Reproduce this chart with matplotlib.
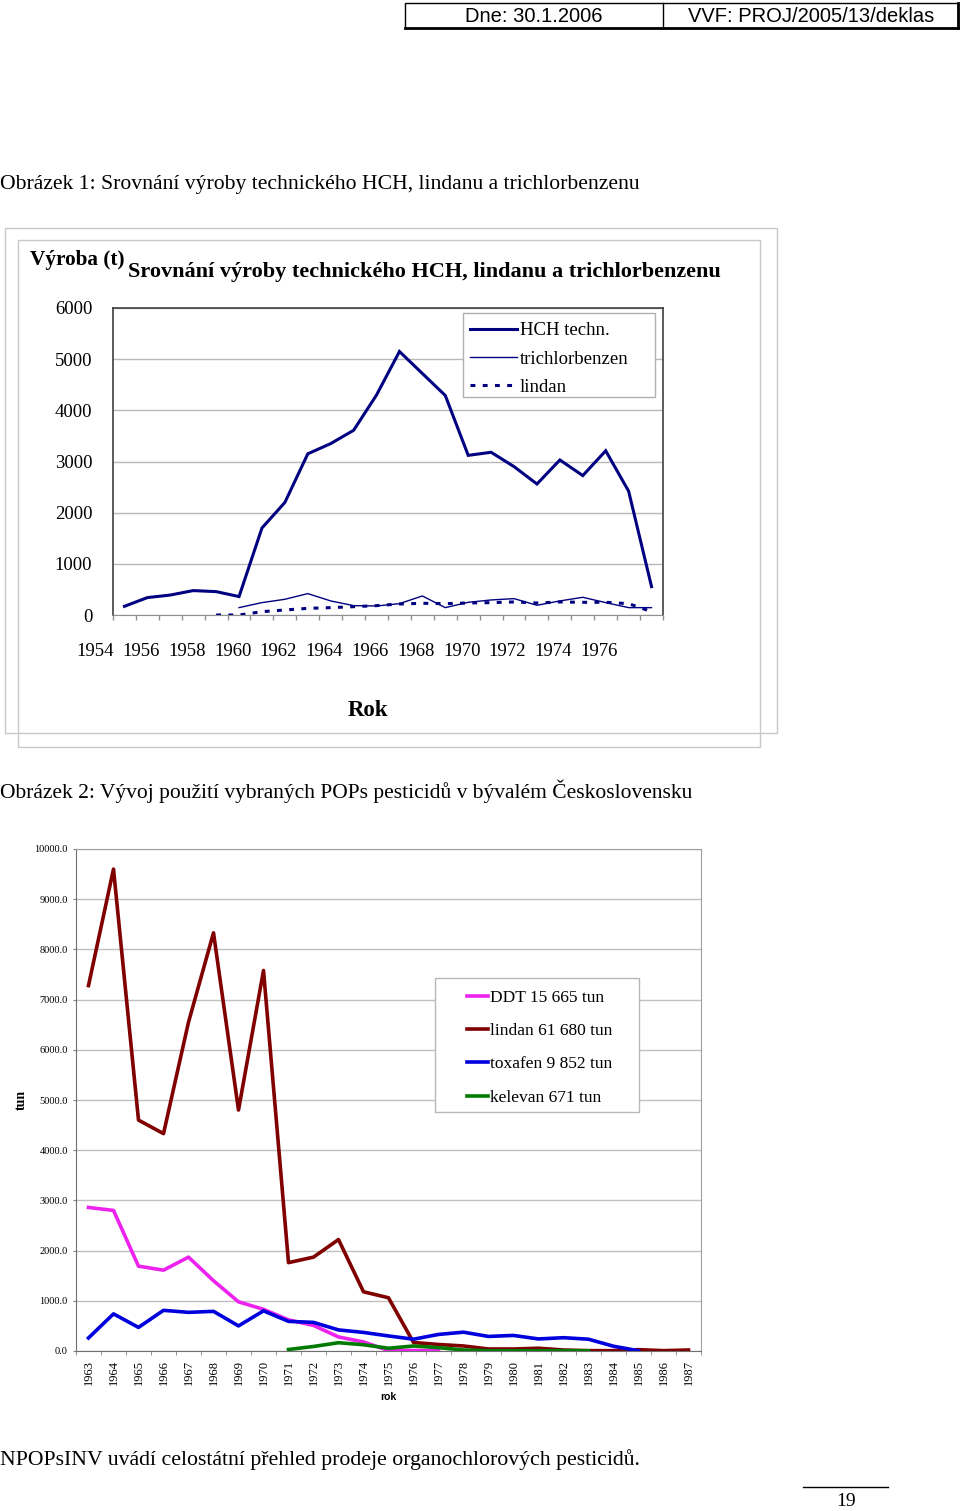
import numpy as np
import matplotlib
matplotlib.use("Agg")
import matplotlib.pyplot as plt
from matplotlib.patches import Rectangle
from matplotlib.lines import Line2D

nan = np.nan

# ---------------- data: chart 1 ----------------
years1 = list(range(1954, 1978))
hch_techn = [170, 340, 390, 477, 457, 360, 1700, 2200, 3150, 3350, 3610, 4300,
             5150, 4720, 4290, 3120, 3180, 2900, 2560, 3030, 2725, 3210, 2420, 555]
trichlorbenzen = [nan] * 5 + [144, 242, 307, 418, 275, 183, 176, 222, 372, 144,
                              248, 294, 320, 190, 275, 346, 242, 144, 144]
lindan1 = [nan] * 4 + [0, 0, 65, 98, 130, 144, 163, 183, 215, 229, 222, 235,
                       242, 255, 235, 255, 248, 248, 222, 65]
labels1 = ["HCH techn.", "trichlorbenzen", "lindan"]
xticklabels1 = [str(y) for y in range(1954, 1977, 2)]

# ---------------- data: chart 2 ----------------
years2 = list(range(1963, 1988))
ddt = [2860, 2800, 1690, 1610, 1870, 1400, 980, 830, 620, 510, 280, 180, 10, 10, 5] + [nan] * 10
lindan2 = [7280, 9600, 4600, 4330, 6550, 8330, 4800, 7580, 1760, 1870, 2220, 1180,
           1060, 170, 130, 100, 40, 40, 55, 20, 7, 7, 27, 7, 20]
toxafen = [260, 740, 470, 810, 770, 790, 500, 800, 590, 570, 420, 370, 300, 235,
           330, 375, 290, 310, 240, 265, 235, 95, 5] + [nan] * 2
kelevan = [nan] * 8 + [30, 90, 165, 125, 55, 100, 67, 20, 5, 5, 5, 5, 5] + [nan] * 4
labels2 = ["DDT 15 665 tun", "lindan 61 680 tun", "toxafen 9 852 tun", "kelevan 671 tun"]

W, H = 960, 1511
SERIF = ["Liberation Serif", "DejaVu Serif"]
SANS = ["Liberation Sans", "DejaVu Sans"]

fig = plt.figure(figsize=(W / 100, H / 100), dpi=100)
fig.patch.set_facecolor("white")


def fbox(x0, y0, x1, y1):
    return [x0 / W, 1 - y1 / H, (x1 - x0) / W, (y1 - y0) / H]


def fx(x):
    return x / W


def fy(y):
    return 1 - y / H


def frect(x0, y0, x1, y1, ec, lw=1.0, fc="none", z=1):
    r = Rectangle((fx(x0), fy(y1)), (x1 - x0) / W, (y1 - y0) / H,
                  transform=fig.transFigure, ec=ec, fc=fc, lw=lw, zorder=z)
    fig.patches.append(r)
    return r


def fline(x0, y0, x1, y1, color="black", lw=1.0, z=2):
    fig.add_artist(Line2D([fx(x0), fx(x1)], [fy(y0), fy(y1)],
                          transform=fig.transFigure, color=color, lw=lw, zorder=z))


# ---------------- page header ----------------
frect(405, 3, 958, 28, "black", lw=1.0)
fline(405, 28, 958, 28, lw=2.0)
fline(958, 3, 958, 28, lw=2.0)
fline(663, 3, 663, 28, lw=1.0)
fig.text(fx(534), fy(17), "Dne: 30.1.2006", family=SANS, fontsize=14.5,
         ha="center", va="center")
fig.text(fx(811), fy(17), "VVF: PROJ/2005/13/deklas", family=SANS, fontsize=14.5,
         ha="center", va="center")

# ---------------- body text ----------------
fig.text(fx(0), fy(184), "Obrázek 1: Srovnání výroby technického HCH, lindanu a trichlorbenzenu",
         family=SERIF, fontsize=15.6, ha="left", va="center")
fig.text(fx(0), fy(791), "Obrázek 2: Vývoj použití vybraných POPs pesticidů v bývalém Československu",
         family=SERIF, fontsize=15.5, ha="left", va="center")
fig.text(fx(0), fy(1460), "NPOPsINV uvádí celostátní přehled prodeje organochlorových pesticidů.",
         family=SERIF, fontsize=15.7, ha="left", va="center")
fline(803, 1487, 888, 1487, lw=1.0)
fig.text(fx(846), fy(1501), "19", family=SERIF, fontsize=14, ha="center", va="center")

# ---------------- chart 1 ----------------
frect(5, 228, 777, 733, "#c8c8c8", lw=1.0, fc="white", z=0.5)
frect(18, 240, 760, 747, "#c8c8c8", lw=1.0, z=0.6)

ax1 = fig.add_axes(fbox(113, 308, 663, 615))
ax1.set_zorder(2)
x1 = np.arange(len(years1))
navy = "#000080"
ax1.plot(x1, hch_techn, color=navy, lw=2.2, solid_joinstyle="miter", label=labels1[0], zorder=3)
ax1.plot(x1, trichlorbenzen, color=navy, lw=1.0, label=labels1[1], zorder=3)
ax1.plot(x1, lindan1, color=navy, lw=2.2, linestyle=(0, (1.6, 2.4)), label=labels1[2], zorder=3)
ax1.set_xlim(-0.5, len(years1) - 0.5)
ax1.set_ylim(0, 6000)
ax1.set_yticks(np.arange(0, 6001, 1000))
ax1.yaxis.grid(True, color="#b8b8b8", lw=1.0)
ax1.set_axisbelow(True)
ax1.tick_params(axis="y", length=0, pad=15, labelsize=13.5)
for lab in ax1.get_yticklabels():
    lab.set_family(SERIF)
ax1.set_xticks(np.arange(-0.5, len(years1), 1.0), minor=True)
ax1.set_xticks([])
ax1.tick_params(axis="x", which="minor", length=3.8, color="#909090", width=1)
for i, t in enumerate(xticklabels1):
    ax1.text(2 * i - 1.28, -0.12, t, transform=ax1.get_xaxis_transform(),
             family=SERIF, fontsize=13.5, ha="center", va="center", clip_on=False)
for s in ["left", "top", "right"]:
    ax1.spines[s].set_color("#404040")
    ax1.spines[s].set_linewidth(1.2)
ax1.spines["bottom"].set_color("#909090")
ax1.set_xlabel("Rok", family=SERIF, fontsize=16.5, fontweight="bold")
ax1.xaxis.set_label_coords((368 - 113) / 550, -(711 - 615) / 307)
ax1.xaxis.label.set_va("center")

fig.text(fx(30), fy(260), "Výroba (t)", family=SERIF, fontsize=15.3, fontweight="bold",
         ha="left", va="center")
fig.text(fx(128), fy(272), "Srovnání výroby technického HCH, lindanu a trichlorbenzenu",
         family=SERIF, fontsize=16, fontweight="bold", ha="left", va="center")

frect(463, 313, 655, 397, "#b0b0b0", lw=1.0, fc="white", z=3)
h1, l1 = ax1.get_legend_handles_labels()
fig.legend(h1, l1, loc="upper left", bbox_to_anchor=(fx(470), fy(322)),
           bbox_transform=fig.transFigure, frameon=False, borderpad=0, borderaxespad=0,
           handlelength=2.5, handletextpad=0.17, labelspacing=0.6,
           prop={"family": SERIF, "size": 13.5})

# ---------------- chart 2 ----------------
ax2 = fig.add_axes(fbox(76, 849, 701, 1351))
ax2.set_zorder(2)
x2 = np.arange(len(years2))
ax2.plot(x2, ddt, color="#ee22ee", lw=2.6, label=labels2[0], zorder=3)
ax2.plot(x2, lindan2, color="#800000", lw=2.6, label=labels2[1], zorder=3)
ax2.plot(x2, toxafen, color="#0000dd", lw=2.6, label=labels2[2], zorder=3)
ax2.plot(x2, kelevan, color="#007a00", lw=2.6, label=labels2[3], zorder=3)
ax2.set_xlim(-0.5, len(years2) - 0.5)
ax2.set_ylim(0, 10000)
ax2.set_yticks(np.arange(0, 10001, 1000))
ax2.set_yticklabels([f"{v:.1f}" for v in np.arange(0, 10001, 1000)])
ax2.yaxis.grid(True, color="#c0c0c0", lw=1.0)
ax2.set_axisbelow(True)
ax2.tick_params(axis="y", length=2.5, pad=3.5, labelsize=7.5, color="#808080")
for lab in ax2.get_yticklabels():
    lab.set_family(SERIF)
ax2.set_xticks(x2)
ax2.set_xticklabels([str(y) for y in years2], rotation=90)
ax2.tick_params(axis="x", which="major", length=0, pad=6.5, labelsize=9)
for lab in ax2.get_xticklabels():
    lab.set_family(SERIF)
ax2.set_xticks(np.arange(-0.5, len(years2), 1.0), minor=True)
ax2.tick_params(axis="x", which="minor", length=3, color="#808080")
ax2.spines["left"].set_color("#707070")
ax2.spines["bottom"].set_color("#707070")
ax2.spines["top"].set_color("#a0a0a0")
ax2.spines["right"].set_color("#a0a0a0")
ax2.set_xlabel("rok", family=SANS, fontsize=7.5, fontweight="bold")
ax2.xaxis.set_label_coords((388 - 76) / 625, -(1397 - 1351) / 502)
ax2.xaxis.label.set_va("center")
ax2.set_ylabel("tun", family=SERIF, fontsize=10, fontweight="bold")
ax2.yaxis.set_label_coords((21 - 76) / 625, 0.5)
ax2.yaxis.label.set_va("center")

frect(435, 978, 639, 1112, "#b8b8b8", lw=1.0, fc="white", z=3)
h2, l2 = ax2.get_legend_handles_labels()
fig.legend(h2, l2, loc="upper left", bbox_to_anchor=(fx(467), fy(990)),
           bbox_transform=fig.transFigure, frameon=False, borderpad=0, borderaxespad=0,
           handlelength=1.2, handletextpad=0.12, labelspacing=0.98,
           prop={"family": SERIF, "size": 12.5})

fig.savefig("out.png", dpi=100, facecolor="white")
